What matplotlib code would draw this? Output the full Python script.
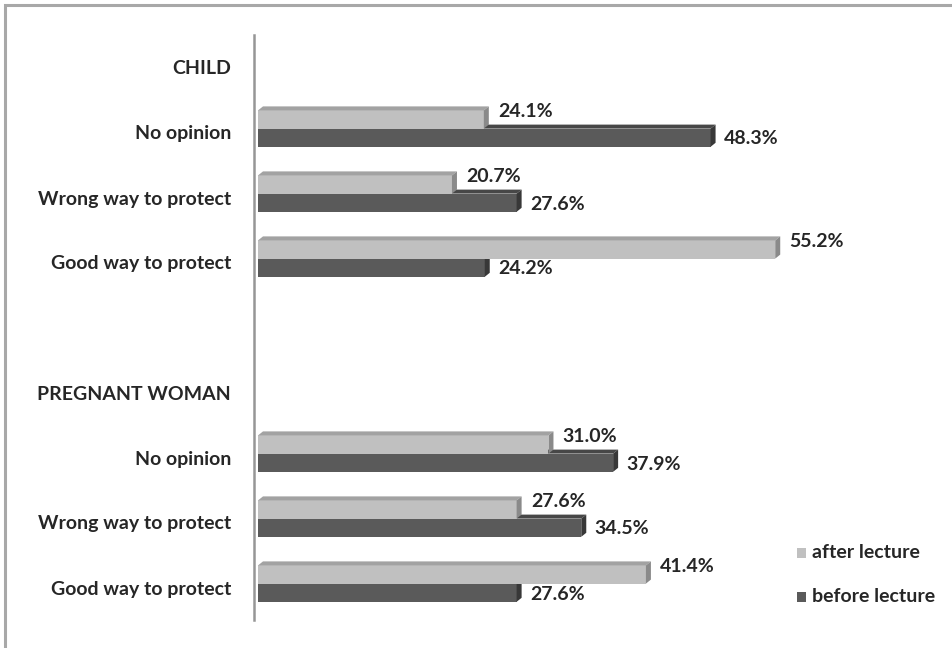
import matplotlib
matplotlib.use("Agg")
import matplotlib.pyplot as plt
from matplotlib.patches import Polygon, Rectangle

# ---- data ----
row_labels = ["CHILD", "No opinion", "Wrong way to protect", "Good way to protect", "",
              "PREGNANT WOMAN", "No opinion", "Wrong way to protect", "Good way to protect"]
bar_rows = [1, 2, 3, 6, 7, 8]
after_lecture = [24.1, 20.7, 55.2, 31.0, 27.6, 41.4]
before_lecture = [48.3, 27.6, 24.2, 37.9, 34.5, 27.6]
series_names = ["after lecture", "before lecture"]

W, H = 952, 648
fig = plt.figure(figsize=(W / 100, H / 100), dpi=100)
fig.patch.set_facecolor("white")

# figure border
fig.add_artist(Rectangle((5 / W, -0.05), 1.2, (H - 5) / H + 0.05, transform=fig.transFigure,
                         fill=False, edgecolor="#a8a8a8", lw=2.2, clip_on=False))

ax_left, ax_top, ax_bottom = 254, 35, 620
bar_start = 258
ax = fig.add_axes([ax_left / W, (H - ax_bottom) / H, (W - ax_left) / W, (ax_bottom - ax_top) / H])
px_per_unit = 9.37
x0 = -(bar_start - ax_left) / px_per_unit
ax.set_xlim(x0, x0 + (W - ax_left) / px_per_unit)
ax.set_ylim(len(row_labels) - 0.5, -0.5)

row_px = (ax_bottom - ax_top) / len(row_labels)
dx = 5 / px_per_unit      # depth in x (data units)
dy = 4 / row_px           # depth in y (row units)
h = 0.28

cols = {
    "after": dict(face="#c0c0c0", top="#a2a2a2", side="#8a8a8a"),
    "before": dict(face="#5a5a5a", top="#474747", side="#383838"),
}
FS = 14
lab_font = dict(family=["Lato", "DejaVu Sans"], fontweight="bold", color="#262626")


def bar3d(val, y_top, c, z):
    y_bot = y_top + h
    ax.barh(y_top + h / 2, val, height=h, left=0, color=c["face"], edgecolor="none", zorder=z)
    ax.add_patch(Polygon([(0, y_top), (val, y_top), (val + dx, y_top - dy), (dx, y_top - dy)],
                         closed=True, facecolor=c["top"], edgecolor="none", zorder=z))
    ax.add_patch(Polygon([(val, y_top), (val, y_bot), (val + dx, y_bot - dy), (val + dx, y_top - dy)],
                         closed=True, facecolor=c["side"], edgecolor="none", zorder=z))


for r, a, b in zip(bar_rows, after_lecture, before_lecture):
    yl = r - 0.34
    yd = yl + h
    bar3d(b, yd, cols["before"], 2)
    bar3d(a, yl, cols["after"], 3)
    ax.text(a + dx + 1.0, r - 0.33, f"{a:.1f}%", va="center", ha="left", fontsize=FS, **lab_font, zorder=5)
    ax.text(b + dx + 0.9, yd + h / 2 + 0.02, f"{b:.1f}%", va="center", ha="left", fontsize=FS, **lab_font, zorder=5)

ax.set_yticks(range(len(row_labels)))
ax.set_yticklabels(row_labels)
for t in ax.get_yticklabels():
    t.set_fontfamily(["Lato", "DejaVu Sans"])
    t.set_fontweight("bold")
    t.set_fontsize(FS)
    t.set_color("#262626")
ax.tick_params(axis="y", length=0, pad=16.5)
ax.set_xticks([])
for s in ["top", "right", "bottom"]:
    ax.spines[s].set_visible(False)
ax.spines["left"].set_color("#969696")
ax.spines["left"].set_linewidth(1.8)

# legend
for i, (name, key) in enumerate(zip(series_names, ["after", "before"])):
    ypx = 553 + 44 * i
    fig.add_artist(Rectangle((797 / W, (H - ypx - 5) / H), 9 / W, 10 / H, transform=fig.transFigure,
                             facecolor=cols[key]["face"], edgecolor="none"))
    fig.text(812 / W, (H - ypx) / H, name, va="center", ha="left", fontsize=FS, **lab_font)

fig.savefig("out.png", dpi=100, facecolor="white")
